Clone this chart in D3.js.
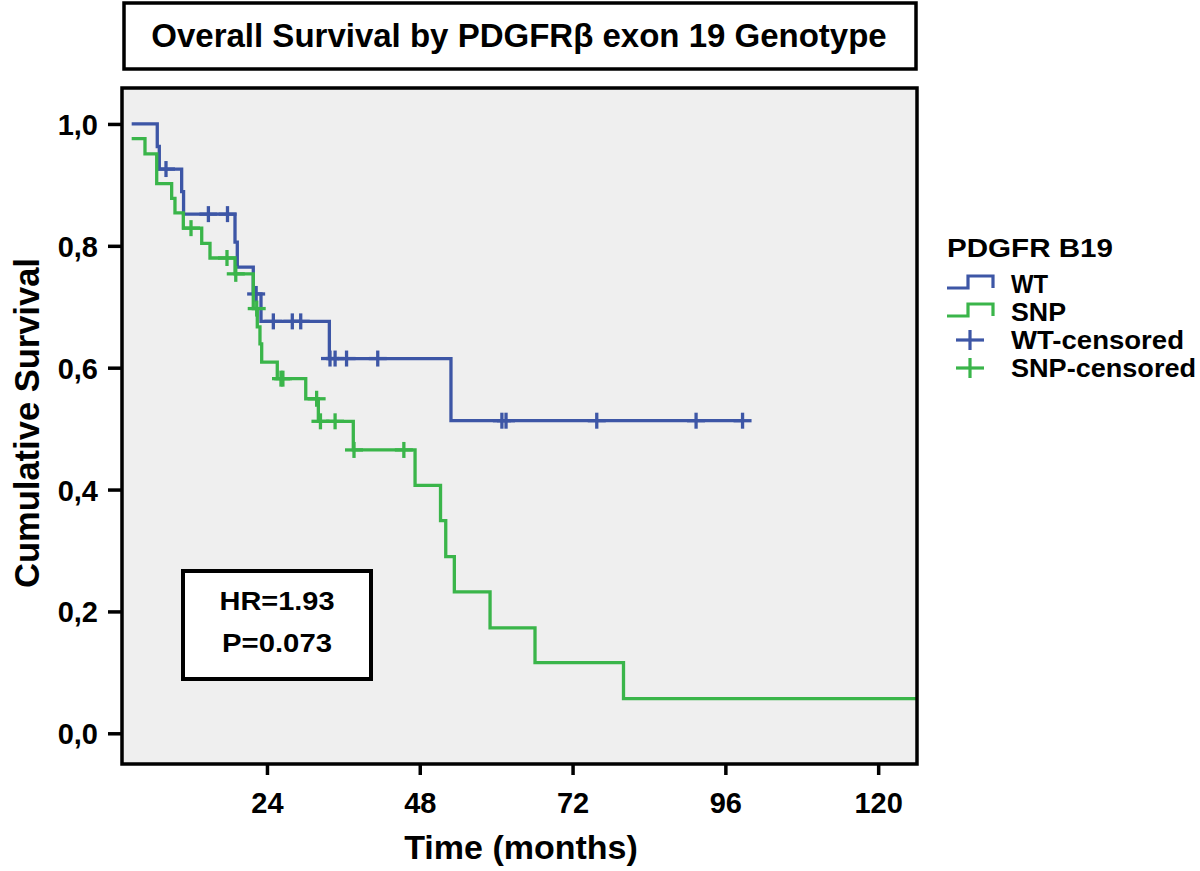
<!DOCTYPE html>
<html><head><meta charset="utf-8">
<script src="https://cdn.jsdelivr.net/npm/d3@7"></script>
<style>
html,body{margin:0;padding:0;background:#fff;}
text{font-family:"Liberation Sans",Arial,Helvetica,sans-serif;font-weight:bold;fill:#000;}
</style></head>
<body>
<svg id="chart" width="1200" height="871"></svg>
<script>
// ---- data ----
const titleText = "Overall Survival by PDGFR\u03B2 exon 19 Genotype";
const xTicks = [24, 48, 72, 96, 120];
const yTicks = [0, 0.2, 0.4, 0.6, 0.8, 1.0];

// WT group: step times (start, events, end) and survival after each
const wtTimes = [2.75, 6.77, 7.09, 10.6, 10.9, 18.98, 19.34, 21.85, 23.06, 33.8, 52.9, 98.7];
const wtSurv  = [1.0, 0.963, 0.926, 0.889, 0.852, 0.806, 0.765, 0.721, 0.676, 0.615, 0.513, 0.513];
const wtCensored = [8.14, 14.8, 17.8, 22.3, 25.0, 27.98, 29.3, 33.9, 34.7, 36.5, 41.4, 60.9, 61.55, 75.8, 91.4, 98.7];

// SNP group
const snpTimes = [2.75, 4.84, 6.68, 9.03, 9.55, 10.86, 13.75, 15.05, 18.98, 21.85, 22.48, 22.9, 23.17, 25.62, 30.09, 32.07, 37.56, 47.26, 51.26, 52.08, 53.43, 59.04, 66.1, 80.0, 126.1];
const snpSurv  = [0.976, 0.951, 0.902, 0.878, 0.854, 0.829, 0.804, 0.780, 0.754, 0.697, 0.667, 0.639, 0.609, 0.582, 0.549, 0.512, 0.465, 0.407, 0.349, 0.290, 0.232, 0.173, 0.116, 0.057, 0.057];
const snpCensored = [12.07, 17.72, 19.1, 22.39, 26.2, 26.5, 31.8, 32.4, 34.7, 37.67, 45.5];

const legendTitle = "PDGFR B19";
const legendLabels = ["WT", "SNP", "WT-censored", "SNP-censored"];
const statLines = ["HR=1.93", "P=0.073"];

// ---- layout ----
const blue = "#3d56a6", green = "#3ab54a";
const svg = d3.select("#chart");
const L = 122, R = 917, T = 88, B = 764;
const x = d3.scaleLinear().domain([1.23, 126.1]).range([L, R]);
const y = d3.scaleLinear().domain([-0.0504, 1.059]).range([B, T]);

// title box
svg.append("rect").attr("x", 124).attr("y", 3).attr("width", 792).attr("height", 66)
  .attr("fill", "#fff").attr("stroke", "#000").attr("stroke-width", 3.5);
svg.append("text").attr("x", 519).attr("y", 47).attr("text-anchor", "middle")
  .attr("font-size", 33).text(titleText);

// plot background
svg.append("rect").attr("x", L).attr("y", T).attr("width", R - L).attr("height", B - T)
  .attr("fill", "#efefef");

// axes
const xAxis = d3.axisBottom(x).tickValues(xTicks).tickSize(11).tickSizeOuter(0).tickPadding(10);
const gx = svg.append("g").attr("transform", `translate(0,${B})`).call(xAxis);
gx.select(".domain").remove();
gx.selectAll(".tick line").attr("stroke", "#000").attr("stroke-width", 3.5);
gx.selectAll(".tick text").attr("font-size", 29).attr("font-family", null).attr("dy", "0.95em");

const yAxis = d3.axisLeft(y).tickValues(yTicks).tickSize(14).tickSizeOuter(0).tickPadding(10)
  .tickFormat(d => d3.format(".1f")(d).replace(".", ","));
const gy = svg.append("g").attr("transform", `translate(${L},0)`).call(yAxis);
gy.select(".domain").remove();
gy.selectAll(".tick line").attr("stroke", "#000").attr("stroke-width", 3.5);
gy.selectAll(".tick text").attr("font-size", 29).attr("font-family", null).attr("dy", "0.36em");

// curves
const line = d3.line().x(d => x(d[0])).y(d => y(d[1])).curve(d3.curveStepAfter);
function drawGroup(times, surv, cens, color) {
  const pts = times.map((t, i) => [t, surv[i]]);
  svg.append("path").datum(pts).attr("d", line).attr("fill", "none")
    .attr("stroke", color).attr("stroke-width", 3.3);
  const levelAt = t => { let s = surv[0]; times.forEach((tt, i) => { if (tt <= t) s = surv[i]; }); return s; };
  const g = svg.append("g").attr("stroke", color).attr("stroke-width", 3.3);
  cens.forEach(t => {
    const cx = x(t), cy = y(levelAt(t));
    g.append("line").attr("x1", cx).attr("x2", cx).attr("y1", cy - 8).attr("y2", cy + 8);
    g.append("line").attr("x1", cx - 9).attr("x2", cx + 9).attr("y1", cy).attr("y2", cy);
  });
}
drawGroup(wtTimes, wtSurv, wtCensored, blue);
drawGroup(snpTimes, snpSurv, snpCensored, green);

// frame
svg.append("rect").attr("x", L).attr("y", T).attr("width", R - L).attr("height", B - T)
  .attr("fill", "none").attr("stroke", "#000").attr("stroke-width", 3.5);

// stats box
svg.append("rect").attr("x", 183).attr("y", 571).attr("width", 188).attr("height", 108)
  .attr("fill", "#fff").attr("stroke", "#000").attr("stroke-width", 4);
const statBase = [610, 652], statLen = [115, 110];
statLines.forEach((s, i) => {
  svg.append("text").attr("x", 277).attr("y", statBase[i]).attr("text-anchor", "middle")
    .attr("font-size", 25).attr("textLength", statLen[i]).attr("lengthAdjust", "spacingAndGlyphs").text(s);
});

// axis titles
svg.append("text").attr("x", 521).attr("y", 859).attr("text-anchor", "middle")
  .attr("font-size", 34).text("Time (months)");
svg.append("text").attr("transform", "translate(39,423) rotate(-90)").attr("text-anchor", "middle")
  .attr("font-size", 34.5).text("Cumulative Survival");

// legend
svg.append("text").attr("x", 947).attr("y", 257).attr("font-size", 25)
  .attr("textLength", 166).attr("lengthAdjust", "spacingAndGlyphs").text(legendTitle);
const legBase = [293, 321, 349, 377], legLen = [37, 55, 173, 185];
const legColors = [blue, green, blue, green];
legendLabels.forEach((s, i) => {
  svg.append("text").attr("x", 1011).attr("y", legBase[i]).attr("font-size", 25)
    .attr("textLength", legLen[i]).attr("lengthAdjust", "spacingAndGlyphs").text(s);
  const cy = legBase[i] - 9;
  if (i < 2) {
    const p = d3.path();
    p.moveTo(947, cy + 4); p.lineTo(968, cy + 4); p.lineTo(968, cy - 8);
    p.lineTo(993, cy - 8); p.lineTo(993, cy + 4);
    svg.append("path").attr("d", p.toString()).attr("fill", "none")
      .attr("stroke", legColors[i]).attr("stroke-width", 3.2);
  } else {
    const g = svg.append("g").attr("stroke", legColors[i]).attr("stroke-width", 3.2);
    g.append("line").attr("x1", 970).attr("x2", 970).attr("y1", cy - 10).attr("y2", cy + 10);
    g.append("line").attr("x1", 956).attr("x2", 984).attr("y1", cy).attr("y2", cy);
  }
});
</script>
</body></html>
